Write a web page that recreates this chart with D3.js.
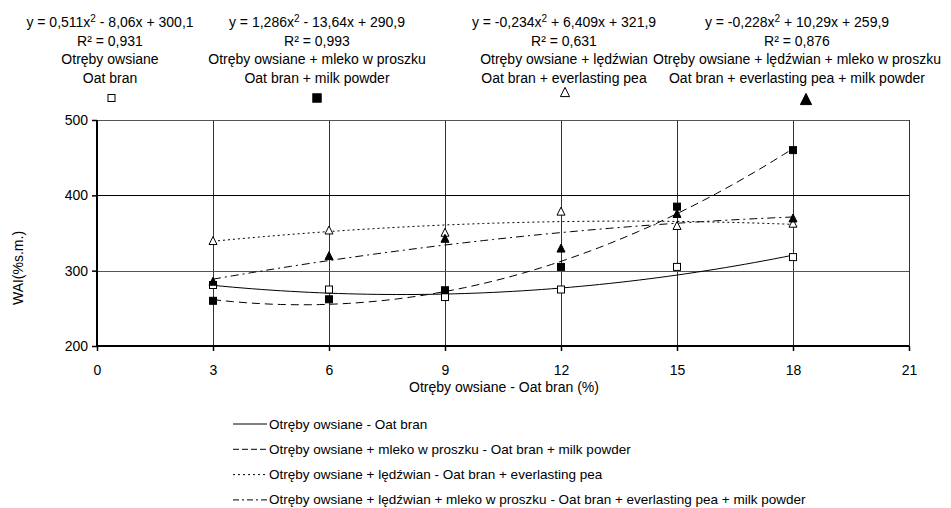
<!DOCTYPE html>
<html>
<head>
<meta charset="utf-8">
<script src="https://cdn.jsdelivr.net/npm/d3@7"></script>
<style>
    body { margin: 0; background: #fff; }
    text { font-family: "Liberation Sans", Arial, sans-serif; fill: #000; }
</style>
</head>
<body>
<svg id="chart" width="951" height="508"></svg>
<script>
// data
var xValues = [3, 6, 9, 12, 15, 18];
var oatBran = [281, 275, 265, 275, 305, 318];
var oatMilk = [260, 262, 274, 305, 385, 460];
var oatPea = [340, 354, 351, 379, 360, 363];
var oatPeaMilk = [286, 320, 343, 330, 376, 370];

// trend line coefficients [a, b, c] for y = a*x^2 + b*x + c
var trendCoef = [
    [0.511, -8.06, 300.1],
    [1.286, -13.64, 290.9],
    [-0.234, 6.409, 321.9],
    [-0.228, 10.29, 259.9]
];

var xTicks = [0, 3, 6, 9, 12, 15, 18, 21];
var yTicks = [200, 300, 400, 500];

var eqLabels = [
    ["y = 0,511x", " - 8,06x + 300,1"],
    ["y = 1,286x", " - 13,64x + 290,9"],
    ["y = -0,234x", " + 6,409x + 321,9"],
    ["y = -0,228x", " + 10,29x + 259,9"]
];
var r2Labels = ["R² = 0,931", "R² = 0,993", "R² = 0,631", "R² = 0,876"];
var nameLabelsPl = ["Otręby owsiane", "Otręby owsiane + mleko w proszku",
    "Otręby owsiane + lędźwian", "Otręby owsiane + lędźwian + mleko w proszku"];
var nameLabelsEn = ["Oat bran", "Oat bran + milk powder",
    "Oat bran + everlasting pea", "Oat bran + everlasting pea + milk powder"];
var legendLabels = [
    "Otręby owsiane - Oat bran",
    "Otręby owsiane + mleko w proszku - Oat bran + milk powder",
    "Otręby owsiane + lędźwian - Oat bran + everlasting pea",
    "Otręby owsiane + lędźwian + mleko w proszku - Oat bran + everlasting pea + milk powder"
];

var seriesList = [oatBran, oatMilk, oatPea, oatPeaMilk];
var dashes = [null, "8,5", "2,3", "8,4,2,4"];
var legendDashes = [null, "6,3", "2,3", "6,3,2,3"];
var markerKind = ["openSquare", "square", "openTriangle", "triangle"];

var svg = d3.select("#chart");

var plot = {left: 97, right: 909, top: 120, bottom: 346};
var x = d3.scaleLinear().domain([0, 21]).range([plot.left, plot.right]);
var y = d3.scaleLinear().domain([200, 500]).range([plot.bottom, plot.top]);

// grid
var grid = svg.append("g").attr("shape-rendering", "crispEdges");
grid.selectAll(".vg")
    .data(xTicks.slice(1))
    .enter()
    .append("line")
    .attr("x1", function (d) { return Math.round(x(d)) + 0.5; })
    .attr("x2", function (d) { return Math.round(x(d)) + 0.5; })
    .attr("y1", plot.top)
    .attr("y2", plot.bottom)
    .attr("stroke", "#333");
grid.selectAll(".hg")
    .data(yTicks.slice(1))
    .enter()
    .append("line")
    .attr("x1", plot.left)
    .attr("x2", plot.right)
    .attr("y1", function (d) { return Math.round(y(d)) + 0.5; })
    .attr("y2", function (d) { return Math.round(y(d)) + 0.5; })
    .attr("stroke", function (d) { return d == 400 ? "#000" : "#555"; });

// axes
var xAxis = d3.axisBottom(x).tickValues(xTicks).tickSize(5).tickPadding(14);
var yAxis = d3.axisLeft(y).tickValues(yTicks).tickSize(5).tickPadding(4);

var gx = svg.append("g").attr("transform", "translate(0," + plot.bottom + ")").call(xAxis);
var gy = svg.append("g").attr("transform", "translate(" + plot.left + ",0)").call(yAxis);
[gx, gy].forEach(function (g) {
    g.select(".domain").attr("stroke", "#000").attr("stroke-width", 2);
    g.selectAll(".tick line").attr("stroke", "#000").attr("stroke-width", 1.5);
    g.selectAll("text").attr("font-size", 14).attr("font-family", "Liberation Sans, Arial, sans-serif").attr("fill", "#000");
});
gx.select(".domain").attr("d", "M" + plot.left + ",0H" + plot.right);
gy.select(".domain").attr("d", "M0," + plot.bottom + "V" + plot.top);

svg.append("text")
    .attr("x", 504)
    .attr("y", 392)
    .attr("text-anchor", "middle")
    .attr("font-size", 14)
    .text("Otręby owsiane - Oat bran (%)");

svg.append("text")
    .attr("transform", "translate(23,268) rotate(-90)")
    .attr("text-anchor", "middle")
    .attr("font-size", 14)
    .text("WAI(%s.m.)");

// trend lines
var line = d3.line()
    .x(function (d) { return x(d); })
    .curve(d3.curveLinear);
var trendX = d3.range(3, 18.01, 0.25);
trendCoef.forEach(function (c, i) {
    svg.append("path")
        .datum(trendX)
        .attr("fill", "none")
        .attr("stroke", "#000")
        .attr("stroke-width", 1)
        .attr("stroke-dasharray", dashes[i])
        .attr("d", line.y(function (d) { return y(c[0] * d * d + c[1] * d + c[2]); }));
});

// markers
function drawMarker(g, kind, cx, cy, scale) {
    var s = scale || 1;
    if (kind == "openSquare" || kind == "square") {
        g.append("rect")
            .attr("x", cx - 3.5 * s)
            .attr("y", cy - 3.5 * s)
            .attr("width", 7 * s)
            .attr("height", 7 * s)
            .attr("fill", kind == "square" ? "#000" : "#fff")
            .attr("stroke", "#000")
            .attr("stroke-width", 1);
    } else {
        var h = 8 * s, w = 8 * s;
        g.append("path")
            .attr("d", "M" + cx + "," + (cy - h / 2) + "L" + (cx + w / 2) + "," + (cy + h / 2) + "L" + (cx - w / 2) + "," + (cy + h / 2) + "Z")
            .attr("fill", kind == "triangle" ? "#000" : "#fff")
            .attr("stroke", "#000")
            .attr("stroke-width", 1);
    }
}

seriesList.forEach(function (vals, i) {
    var g = svg.append("g");
    vals.forEach(function (v, j) {
        drawMarker(g, markerKind[i], x(xValues[j]), y(v));
    });
});

// annotations above the plot
var annX = [110, 317, 564, 797];
var markX = [111.5, 317, 565, 806];
var markY = [98, 98, 92, 99];
var markScale = [1, 1.2, 1.15, 1.4];
var annG = svg.append("g").attr("font-size", 14).attr("text-anchor", "middle");
annX.forEach(function (ax, i) {
    var t = annG.append("text").attr("x", ax).attr("y", 26.5);
    t.append("tspan").text(eqLabels[i][0]);
    t.append("tspan").attr("dy", -5).attr("font-size", 10).text("2");
    t.append("tspan").attr("dy", 5).text(eqLabels[i][1]);
    annG.append("text").attr("x", ax).attr("y", 46).text(r2Labels[i]);
    annG.append("text").attr("x", ax).attr("y", 64).text(nameLabelsPl[i]);
    annG.append("text").attr("x", ax).attr("y", 82.5).text(nameLabelsEn[i]);
    drawMarker(svg, markerKind[i], markX[i], markY[i], markScale[i]);
});

// legend
var legend = svg.append("g").attr("transform", "translate(233,424)");
legendLabels.forEach(function (lab, i) {
    var row = legend.append("g").attr("transform", "translate(0," + (i * 25.3) + ")");
    row.append("line")
        .attr("x1", 0)
        .attr("x2", 34)
        .attr("stroke", "#000")
        .attr("stroke-dasharray", legendDashes[i]);
    row.append("text")
        .attr("x", 36)
        .attr("y", 4.5)
        .attr("font-size", 13.5)
        .text(lab);
});
</script>
</body>
</html>
